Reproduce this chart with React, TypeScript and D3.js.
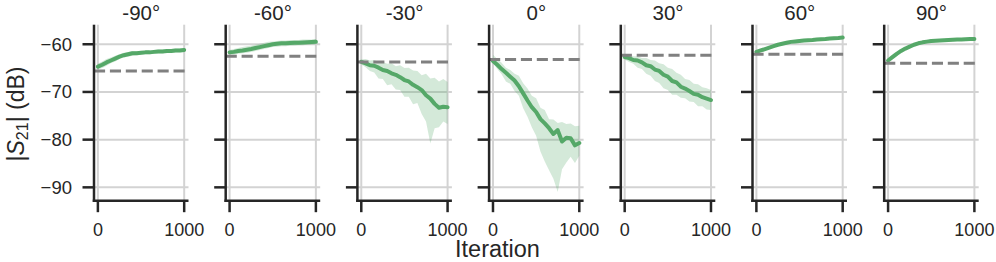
import React from "react";
import { scaleLinear, line, area } from "d3";

// iteration grid shared by every panel
const iterations = [0, 50, 100, 150, 200, 250, 300, 350, 400, 450, 500, 550, 600, 650, 700, 750, 800, 850, 900, 950, 1000];
const angles = ["-90°", "-60°", "-30°", "0°", "30°", "60°", "90°"];
const baselines = [-65.6, -62.5, -63.7, -63.2, -62.3, -62.1, -64.0];
const yTicks = [-60, -70, -80, -90];
const xTicks = [0, 1000];

const meanM90 = [-64.7, -64.3, -63.8, -63.4, -63.0, -62.6, -62.3, -62.1, -61.9, -61.9, -61.8, -61.7, -61.7, -61.6, -61.5, -61.5, -61.4, -61.4, -61.3, -61.3, -61.2];
const loM90 = [-65.3, -65.0, -64.5, -64.0, -63.6, -63.1, -62.8, -62.6, -62.4, -62.3, -62.2, -62.1, -62.1, -62.0, -61.9, -61.9, -61.8, -61.8, -61.7, -61.7, -61.6];
const hiM90 = [-64.1, -63.6, -63.1, -62.8, -62.4, -62.1, -61.8, -61.6, -61.4, -61.4, -61.4, -61.3, -61.3, -61.2, -61.1, -61.1, -61.0, -61.0, -60.9, -60.9, -60.8];

const meanM60 = [-61.7, -61.6, -61.4, -61.3, -61.15, -61.0, -60.8, -60.6, -60.4, -60.2, -60.0, -59.9, -59.8, -59.8, -59.75, -59.7, -59.7, -59.65, -59.6, -59.55, -59.5];
const loM60 = [-62.2, -62.2, -62.0, -61.9, -61.8, -61.6, -61.4, -61.2, -61.0, -60.8, -60.6, -60.5, -60.4, -60.4, -60.3, -60.3, -60.2, -60.2, -60.1, -60.1, -60.0];
const hiM60 = [-61.2, -61.0, -60.8, -60.6, -60.4, -60.3, -60.1, -59.9, -59.7, -59.5, -59.4, -59.3, -59.2, -59.2, -59.1, -59.1, -59.1, -59.0, -59.0, -59.0, -58.9];

const meanM30 = [-63.7, -64.0, -64.4, -64.5, -64.9, -65.4, -65.6, -66.1, -66.4, -66.9, -67.5, -67.8, -68.5, -69.0, -69.6, -70.7, -71.4, -72.5, -73.3, -73.1, -73.2];
const loM30 = [-64.2, -64.8, -65.6, -65.9, -67.2, -67.3, -68.6, -68.4, -69.5, -69.6, -71.0, -71.0, -72.6, -72.3, -74.6, -76.2, -80.8, -77.6, -77.4, -76.2, -76.7];
const hiM30 = [-63.2, -63.1, -63.4, -63.3, -63.7, -63.7, -64.1, -64.0, -64.6, -64.4, -65.0, -64.9, -65.5, -65.6, -66.5, -66.2, -67.2, -67.0, -67.8, -67.3, -67.9];

const mean0 = [-63.5, -64.3, -65.2, -66.0, -66.8, -67.6, -68.8, -70.3, -71.8, -73.2, -74.2, -75.7, -76.6, -77.6, -78.8, -78.0, -80.4, -79.6, -79.7, -81.2, -80.7];
const lo0 = [-64.0, -65.2, -66.3, -67.8, -68.3, -69.8, -70.8, -73.4, -75.2, -77.4, -79.2, -82.5, -84.6, -86.4, -88.2, -91.0, -86.2, -84.8, -83.6, -84.9, -83.4];
const hi0 = [-62.2, -63.1, -63.9, -64.9, -65.4, -66.2, -66.6, -68.2, -69.3, -70.8, -71.3, -73.3, -73.8, -75.7, -75.8, -76.5, -76.3, -76.7, -76.6, -77.2, -77.1];

const meanP30 = [-62.7, -62.9, -63.3, -63.4, -63.8, -64.4, -64.6, -65.3, -65.6, -66.4, -66.8, -67.7, -68.0, -68.9, -69.3, -69.8, -70.4, -70.6, -71.1, -71.4, -71.7];
const loP30 = [-63.2, -63.7, -64.1, -64.9, -65.2, -66.2, -66.6, -67.7, -68.1, -69.2, -69.6, -70.6, -70.6, -71.2, -71.3, -72.0, -72.1, -73.0, -73.0, -73.7, -73.8];
const hiP30 = [-62.0, -62.1, -62.5, -62.5, -62.9, -62.9, -63.3, -63.4, -64.0, -64.2, -64.9, -65.2, -66.0, -66.4, -67.3, -67.5, -68.3, -68.4, -69.0, -69.2, -69.6];

const meanP60 = [-61.6, -61.3, -61.0, -60.7, -60.4, -60.1, -59.9, -59.7, -59.5, -59.4, -59.3, -59.2, -59.15, -59.1, -59.0, -58.95, -58.9, -58.8, -58.75, -58.7, -58.6];
const loP60 = [-61.9, -61.6, -61.3, -61.0, -60.7, -60.4, -60.2, -60.0, -59.8, -59.7, -59.6, -59.5, -59.45, -59.4, -59.3, -59.25, -59.2, -59.1, -59.05, -59.0, -58.9];
const hiP60 = [-61.3, -61.0, -60.7, -60.4, -60.1, -59.8, -59.6, -59.4, -59.2, -59.1, -59.0, -58.9, -58.85, -58.8, -58.7, -58.65, -58.6, -58.5, -58.45, -58.4, -58.3];

const meanP90 = [-63.4, -62.7, -62.0, -61.4, -60.9, -60.5, -60.1, -59.8, -59.6, -59.45, -59.3, -59.25, -59.2, -59.15, -59.1, -59.05, -59.0, -59.0, -58.95, -58.9, -58.9];
const loP90 = [-63.8, -63.1, -62.4, -61.7, -61.2, -60.8, -60.4, -60.1, -59.9, -59.75, -59.6, -59.55, -59.5, -59.45, -59.4, -59.35, -59.3, -59.3, -59.25, -59.2, -59.2];
const hiP90 = [-63.0, -62.3, -61.6, -61.1, -60.6, -60.2, -59.8, -59.5, -59.3, -59.15, -59.0, -58.95, -58.9, -58.85, -58.8, -58.75, -58.7, -58.7, -58.65, -58.6, -58.6];

const means = [meanM90, meanM60, meanM30, mean0, meanP30, meanP60, meanP90];
const lows = [loM90, loM60, loM30, lo0, loP30, loP60, loP90];
const highs = [hiM90, hiM60, hiM30, hi0, hiP30, hiP60, hiP90];

const FONT = "'Liberation Sans', Arial, sans-serif";
const GREEN = "#55a868";
const INK = "#262626";

const firstLeft = 94;
const step = 131.7;
const panelW = 94.5;
const top = 24.7;
const bottom = 200.7;

const yScale = scaleLinear().domain([-92.8, -55.9]).range([bottom, top]);

const Panel = ({ idx }) => {
  const left = firstLeft + idx * step;
  const xScale = scaleLinear().domain([-45, 1050]).range([left, left + panelW]);
  const pts = iterations.map((it, i) => ({ it, m: means[idx][i], lo: lows[idx][i], hi: highs[idx][i] }));
  const meanLine = line()
    .x((d) => xScale(d.it))
    .y((d) => yScale(d.m));
  const band = area()
    .x((d) => xScale(d.it))
    .y0((d) => yScale(d.lo))
    .y1((d) => yScale(d.hi));
  const clipId = `clip-${idx}`;

  return (
    <g>
      <clipPath id={clipId}>
        <rect x={left} y={top} width={panelW} height={bottom - top} />
      </clipPath>
      {yTicks.map((t) => (
        <line key={`gy${t}`} x1={left} x2={left + panelW} y1={yScale(t)} y2={yScale(t)} stroke="#d3d3d3" strokeWidth={2} />
      ))}
      {xTicks.map((t) => (
        <line key={`gx${t}`} x1={xScale(t)} x2={xScale(t)} y1={top} y2={bottom} stroke="#d3d3d3" strokeWidth={2} />
      ))}
      <g clipPath={`url(#${clipId})`}>
        <path d={band(pts)} fill={GREEN} fillOpacity={0.25} stroke="none" />
        <path d={meanLine(pts)} fill="none" stroke={GREEN} strokeWidth={4} strokeLinejoin="round" strokeLinecap="round" />
        <line x1={left} x2={left + panelW} y1={yScale(baselines[idx])} y2={yScale(baselines[idx])} stroke="#808080" strokeWidth={3} strokeDasharray="11.1,4.8" />
      </g>
      {/* spines */}
      <line x1={left} x2={left} y1={top} y2={bottom + 1.25} stroke={INK} strokeWidth={2.5} />
      <line x1={left - 1.25} x2={left + panelW} y1={bottom} y2={bottom} stroke={INK} strokeWidth={2.5} />
      {yTicks.map((t) => (
        <g key={`ty${t}`}>
          <line x1={left - 11.5} x2={left} y1={yScale(t)} y2={yScale(t)} stroke={INK} strokeWidth={2.5} />
          {idx === 0 && (
            <text x={left - 22} y={yScale(t)} dy="0.35em" textAnchor="end" fontSize={18.5} fill={INK} fontFamily={FONT}>
              {`\u2212${Math.abs(t)}`}
            </text>
          )}
        </g>
      ))}
      {xTicks.map((t) => (
        <g key={`tx${t}`}>
          <line x1={xScale(t)} x2={xScale(t)} y1={bottom} y2={bottom + 11.5} stroke={INK} strokeWidth={2.5} />
          <text x={xScale(t)} y={235.5} textAnchor="middle" fontSize={18} fill={INK} fontFamily={FONT}>
            {t}
          </text>
        </g>
      ))}
      <text x={left + panelW / 2} y={20} textAnchor="middle" fontSize={20.5} fill={INK} fontFamily={FONT}>
        {angles[idx]}
      </text>
    </g>
  );
};

const App = () => {
  return (
    <svg width={996} height={262} viewBox="0 0 996 262" style={{ position: "absolute", left: 0, top: 0, background: "#fff" }}>
      {angles.map((a, i) => (
        <Panel key={a} idx={i} />
      ))}
      <text x={497.5} y={256.5} textAnchor="middle" fontSize={23.5} fill={INK} fontFamily={FONT}>
        Iteration
      </text>
      <text transform="translate(24,114) rotate(-90)" textAnchor="middle" fontSize={23} fill={INK} fontFamily={FONT}>
        |<tspan fontStyle="italic">S</tspan>
        <tspan fontSize={16} dy={4}>21</tspan>
        <tspan dy={-4}>| (dB)</tspan>
      </text>
    </svg>
  );
};

export default App;
